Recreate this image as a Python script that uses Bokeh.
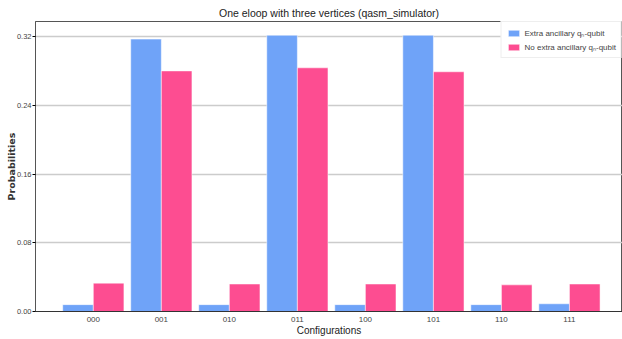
from bokeh.plotting import figure
from bokeh.models import (ColumnDataSource, Range1d, FixedTicker, NumeralTickFormatter,
                          Legend, LegendItem)
from bokeh.transform import dodge
from bokeh.embed import file_html
from bokeh.resources import INLINE

configs = ["000", "001", "010", "011", "100", "101", "110", "111"]
extra_ancilla = [0.008, 0.317, 0.008, 0.3215, 0.008, 0.3215, 0.008, 0.009]
no_extra_ancilla = [0.033, 0.280, 0.032, 0.2836, 0.032, 0.279, 0.031, 0.032]
y_ticks = [0.0, 0.08, 0.16, 0.24, 0.32]

src = ColumnDataSource(dict(idx=list(range(len(configs))), cfg=configs,
                            a=extra_ancilla, b=no_extra_ancilla))

FONT = "Liberation Sans"

p = figure(width=622, height=339, output_backend="svg", toolbar_location=None,
           x_range=Range1d(-0.85, 7.78), y_range=Range1d(0, 0.3375),
           min_border_left=35, min_border_right=0, min_border_bottom=28, min_border_top=21,
           title="One eloop with three vertices (qasm_simulator)")
p.title.align = "center"
p.title.text_font = FONT
p.title.text_font_size = "10.5px"
p.title.text_font_style = "normal"
p.title.text_color = "#222222"
p.title.standoff = 5

r1 = p.vbar(x=dodge("idx", -0.225, range=p.x_range), top="a", width=0.45, source=src,
            fill_color="#6fa3f8", line_color="white", line_width=0.5)
r2 = p.vbar(x=dodge("idx", 0.225, range=p.x_range), top="b", width=0.45, source=src,
            fill_color="#fd4d91", line_color="white", line_width=0.5)

p.xaxis.ticker = FixedTicker(ticks=list(range(len(configs))))
p.xaxis.major_label_overrides = {i: c for i, c in enumerate(configs)}
p.xaxis.major_tick_line_color = None
p.xaxis.major_tick_out = 0
p.xaxis.major_tick_in = 0
p.xaxis.minor_tick_line_color = None
p.xaxis.major_label_text_font = FONT
p.xaxis.major_label_text_font_size = "8px"
p.xaxis.major_label_standoff = 5
p.xaxis.axis_label = "Configurations"
p.xaxis.axis_label_text_font = FONT
p.xaxis.axis_label_text_font_size = "10px"
p.xaxis.axis_label_text_font_style = "normal"
p.xaxis.axis_label_text_color = "#222222"
p.xaxis.axis_label_standoff = 0
p.xaxis.axis_line_color = "#333333"

p.yaxis.ticker = FixedTicker(ticks=y_ticks)
p.yaxis.formatter = NumeralTickFormatter(format="0.00")
p.yaxis.minor_tick_line_color = None
p.yaxis.major_tick_out = 3
p.yaxis.major_tick_in = 0
p.yaxis.major_label_text_font = FONT
p.yaxis.major_label_text_font_size = "7.5px"
p.yaxis.major_label_standoff = 1
p.yaxis.axis_label = "Probabilities"
p.yaxis.axis_label_text_font = "DejaVu Sans"
p.yaxis.axis_label_text_font_size = "9.5px"
p.yaxis.axis_label_text_font_style = "bold"
p.yaxis.axis_label_text_color = "#333333"
p.yaxis.axis_label_standoff = -3
p.yaxis.axis_line_color = "#555555"

p.xgrid.grid_line_color = None
p.ygrid.grid_line_color = "#cccccc"
p.ygrid.grid_line_width = 1.5
p.outline_line_color = "#555555"

legend = Legend(items=[LegendItem(label="Extra ancillary qₙ-qubit", renderers=[r1]),
                       LegendItem(label="No extra ancillary qₙ-qubit", renderers=[r2])],
                location="top_right")
legend.label_text_font = FONT
legend.label_text_font_size = "8px"
legend.label_height = 10
legend.label_standoff = 4
legend.glyph_height = 8
legend.glyph_width = 14
legend.spacing = 3
legend.padding = 5
legend.margin = 0
legend.border_line_color = "#dddddd"
legend.background_fill_alpha = 1.0
p.add_layout(legend, "center")

open("out.html", "w").write(file_html(p, INLINE))
